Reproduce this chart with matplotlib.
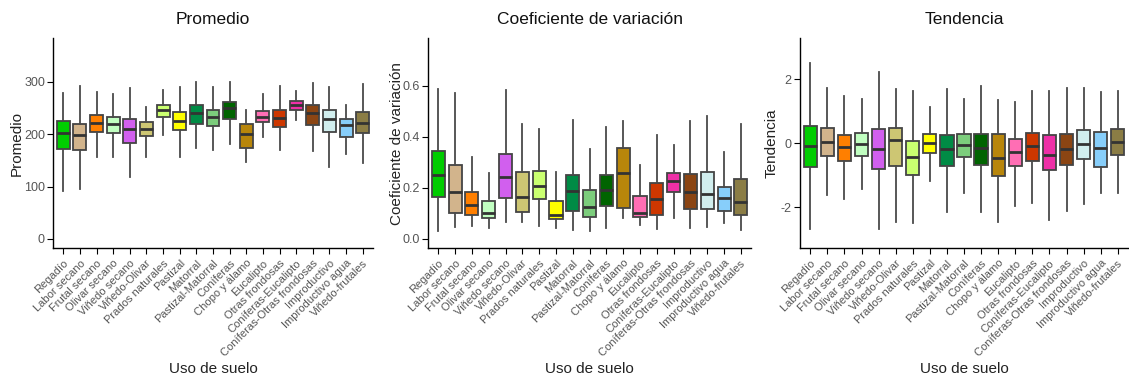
import matplotlib
matplotlib.use("Agg")
import matplotlib.pyplot as plt

plt.rcParams['font.family'] = ['Liberation Sans', 'DejaVu Sans']

usos = ['Regadío', 'Labor secano', 'Frutal secano', 'Olivar secano', 'Viñedo secano',
        'Viñedo-Olivar', 'Prados naturales', 'Pastizal', 'Matorral', 'Pastizal-Matorral',
        'Coníferas', 'Chopo y álamo', 'Eucalipto', 'Otras frondosas', 'Coníferas-Eucalipto',
        'Coníferas-Otras frondosas', 'Improductivo', 'Improductivo agua', 'Viñedo-frutales']

colores = ['#00CD00', '#D2B48C', '#FF7F00', '#C1FFC1', '#D15FEE', '#CDC673', '#CAFF70',
           '#FFFF00', '#008B45', '#7CCD7C', '#006400', '#B8860B', '#FF6EB4', '#CD3700',
           '#EE30A7', '#8B4513', '#D1EEEE', '#87CEFA', '#8B7D45']

# Promedio: whisker low, Q1, median, Q3, whisker high
prom_lo  = [91, 95, 157, 156, 118, 156, 198, 157, 173, 169, 182, 146, 195, 170, 227, 168, 138, 162, 144]
prom_q1  = [171, 170, 205, 203, 184, 196, 232, 208, 220, 215, 228, 173, 223, 214, 247, 217, 205, 194, 203]
prom_med = [203, 198, 221, 219, 209, 209, 246, 226, 240, 232, 249, 201, 232, 231, 255, 240, 228, 217, 222]
prom_q3  = [226, 219, 236, 233, 229, 223, 256, 243, 255, 247, 261, 219, 245, 246, 264, 256, 247, 228, 242]
prom_hi  = [279, 292, 281, 276, 289, 251, 284, 290, 299, 290, 300, 246, 276, 292, 282, 297, 290, 255, 296]

# Coeficiente de variación
cv_lo  = [0.029, 0.048, 0.051, 0.044, 0.065, 0.068, 0.051, 0.041, 0.035, 0.029, 0.043, 0.080, 0.054, 0.038, 0.080, 0.044, 0.048, 0.064, 0.035]
cv_q1  = [0.166, 0.102, 0.093, 0.080, 0.159, 0.105, 0.156, 0.077, 0.111, 0.084, 0.129, 0.120, 0.085, 0.092, 0.183, 0.116, 0.116, 0.111, 0.093]
cv_med = [0.252, 0.183, 0.133, 0.103, 0.242, 0.166, 0.209, 0.094, 0.187, 0.127, 0.192, 0.260, 0.103, 0.158, 0.226, 0.184, 0.176, 0.159, 0.145]
cv_q3  = [0.344, 0.289, 0.183, 0.150, 0.333, 0.264, 0.268, 0.150, 0.252, 0.191, 0.251, 0.358, 0.167, 0.218, 0.260, 0.254, 0.261, 0.205, 0.235]
cv_hi  = [0.587, 0.571, 0.320, 0.258, 0.584, 0.451, 0.430, 0.263, 0.467, 0.354, 0.437, 0.464, 0.289, 0.407, 0.367, 0.464, 0.482, 0.339, 0.451]

# Tendencia
tend_lo  = [-2.68, -1.63, -1.76, -1.45, -2.68, -2.47, -2.49, -1.18, -2.14, -1.57, -2.16, -2.47, -1.97, -1.88, -2.41, -2.12, -1.91, -1.55, -1.57]
tend_q1  = [-0.74, -0.39, -0.56, -0.39, -0.82, -0.72, -0.99, -0.30, -0.70, -0.44, -0.67, -1.03, -0.72, -0.56, -0.85, -0.67, -0.51, -0.75, -0.37]
tend_med = [-0.08, 0.04, -0.13, -0.02, -0.17, 0.09, -0.43, 0.02, -0.19, -0.06, -0.16, -0.48, -0.28, -0.09, -0.37, -0.17, -0.02, -0.15, 0.03]
tend_q3  = [0.54, 0.46, 0.25, 0.32, 0.43, 0.48, 0.08, 0.29, 0.26, 0.29, 0.30, 0.30, 0.12, 0.32, 0.25, 0.29, 0.41, 0.35, 0.43]
tend_hi  = [2.50, 1.72, 1.46, 1.39, 2.23, 1.69, 1.62, 1.14, 1.69, 1.39, 1.79, 1.35, 1.29, 1.62, 1.62, 1.71, 1.73, 1.60, 1.62]

paneles = [
    ('Promedio', 'Promedio', (prom_lo, prom_q1, prom_med, prom_q3, prom_hi),
     (-18, 383), [0, 100, 200, 300], ['0', '100', '200', '300']),
    ('Coeficiente de variación', 'Coeficiente de variación', (cv_lo, cv_q1, cv_med, cv_q3, cv_hi),
     (-0.037, 0.787), [0.0, 0.2, 0.4, 0.6], ['0.0', '0.2', '0.4', '0.6']),
    ('Tendencia', 'Tendencia', (tend_lo, tend_q1, tend_med, tend_q3, tend_hi),
     (-3.29, 3.28), [-2, 0, 2], ['-2', '0', '2']),
]

fig = plt.figure(figsize=(11.29, 3.8), dpi=100)
W, H = 1129, 380
# (left, right) of each panel in pixels
extents = [(53.3, 372.7), (428.2, 751), (800, 1128)]
top_px, bot_px = 38.3, 248.3
ylab_x = [17, 397, 772]

for (titulo, ylab, datos, ylim, yt, ytl), (l, r), yx in zip(paneles, extents, ylab_x):
    ax = fig.add_axes([l / W, 1 - bot_px / H, (r - l) / W, (bot_px - top_px) / H])
    lo, q1, med, q3, hi = datos
    stats = [dict(whislo=a, q1=b, med=c, q3=d, whishi=e, fliers=[])
             for a, b, c, d, e in zip(lo, q1, med, q3, hi)]
    bp = ax.bxp(stats, positions=range(1, len(usos) + 1), widths=0.78,
                patch_artist=True, showcaps=False, showfliers=False,
                boxprops=dict(edgecolor='#444444', linewidth=1.3),
                whiskerprops=dict(color='#4a4a4a', linewidth=1.3),
                medianprops=dict(color='#333333', linewidth=2.0))
    for patch, c in zip(bp['boxes'], colores):
        patch.set_facecolor(c)

    ax.set_xlim(0.4, len(usos) + 0.6)
    ax.set_ylim(*ylim)
    ax.set_yticks(yt)
    ax.set_yticklabels(ytl)
    ax.set_xticks(range(1, len(usos) + 1))
    ax.set_xticklabels(usos, rotation=45, ha='right', va='top', rotation_mode='anchor')
    ax.tick_params(axis='y', labelsize=9, labelcolor='#555555', length=4, width=0.8, pad=2)
    ax.tick_params(axis='x', labelsize=8, labelcolor='#555555', length=4, width=0.8, pad=3)
    for s in ['top', 'right']:
        ax.spines[s].set_visible(False)
    for s in ['left', 'bottom']:
        ax.spines[s].set_linewidth(1.0)
    ax.set_xlabel('Uso de suelo', fontsize=11, color='#222222', va='center')
    ax.xaxis.set_label_coords(0.5, -(369 - bot_px) / (bot_px - top_px), transform=ax.transAxes)
    ax.set_ylabel(ylab, fontsize=11, color='#222222', va='center')
    ax.yaxis.set_label_coords(((yx - l) / (r - l)), 0.5)
    fig.text((l + r) / 2 / W, 1 - 20 / H, titulo, ha='center', va='center',
             fontsize=12.5, color='#111111')

fig.savefig('out.png', dpi=100)
